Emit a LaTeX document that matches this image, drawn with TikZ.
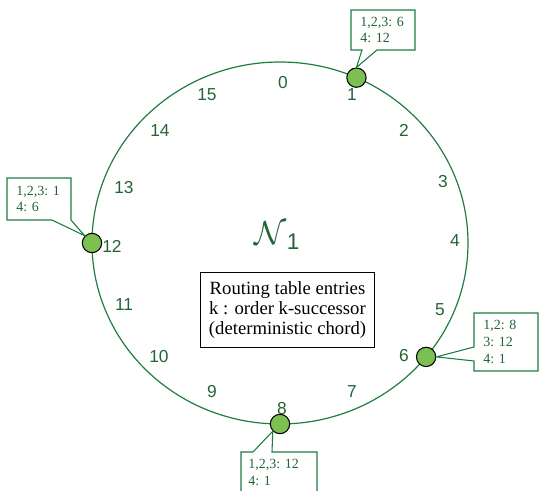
\documentclass[tikz,border=0pt]{standalone}
\usepackage{fontspec}
\setmainfont{Liberation Serif}
\setsansfont{Liberation Sans}
\usetikzlibrary{positioning}
\definecolor{ringgreen}{RGB}{30,125,65}
\definecolor{textgreen}{RGB}{35,100,55}
\definecolor{dotgreen}{RGB}{125,192,82}

\begin{document}
\begin{tikzpicture}[x=0.75pt, y=0.75pt,
    ring/.style={draw=ringgreen, line width=0.9pt},
    peer/.style={circle, draw=black, fill=dotgreen, line width=0.8pt,
      minimum size=14.5pt, inner sep=0pt},
    idlabel/.style={text=textgreen, font=\sffamily\fontsize{13}{15}\selectfont},
    bubble/.style={draw=ringgreen, fill=white, line width=0.8pt},
    bubbletext/.style={text=textgreen, font=\fontsize{10.5}{12.5}\selectfont,
      align=left, anchor=west, inner sep=0pt}]

    % page frame (pixel grid, y downwards)
    \useasboundingbox (0,0) rectangle (540,-491);
    \clip (0,0) rectangle (540,-491);

    % identifier ring
    \coordinate (c) at (280,-243);
    \draw[ring] (c) ellipse [x radius=141pt, y radius=135.75pt];

    % identifiers 0..15
    \foreach \k/\x/\y in {0/283/83, 1/352/95, 2/404/130, 3/443/182,
        4/455/241, 5/440/310, 6/404/356, 7/352/392, 8/282/409, 9/212/392,
        10/159/357, 11/124/305, 12/112/246, 13/124/188, 14/160/131, 15/207/95}
        \node[idlabel] (id\k) at (\x,-\y) {\k};

    % overlay network label
    \node[text=textgreen] (net) at (277,-236)
        {\fontsize{28}{30}\selectfont$\mathcal{N}$\raisebox{-4pt}{\sffamily\fontsize{17}{20}\selectfont 1}};

    % routing table legend
    \node[draw, line width=0.8pt, align=center, font=\fontsize{14}{15}\selectfont,
        minimum width=131pt, minimum height=56pt, inner sep=2pt] (rt) at (287.5,-310)
        {Routing table entries\\ k : order k-successor\\ (deterministic chord)};

    % peers on the ring
    \path (c) ++(66:188 and 181) node[peer] (p1) {};
    \path (c) ++(180:188 and 181) node[peer] (p12) {};
    \path (c) ++(-39:188 and 181) node[peer] (p6) {};
    \path (c) ++(-90:188 and 181) node[peer] (p8) {};

    % routing table of peer 1
    \draw[bubble] (351,-10) -- (415,-10) -- (415,-50) -- (377,-50)
        -- (p1.north) -- (362,-50) -- (351,-50) -- cycle;
    \node[bubbletext] (t1) at (360,-30) {1,2,3: 6\\4: 12};

    % routing table of peer 12
    \draw[bubble] (7,-178) -- (71,-178) -- (71,-220)
        -- (p12.north west) -- (52,-220) -- (7,-220) -- cycle;
    \node[bubbletext] (t12) at (16,-199) {1,2,3: 1\\4: 6};

    % routing table of peer 6
    \draw[bubble] (474,-313) -- (538,-313) -- (538,-371) -- (474,-371)
        -- (474,-361) -- (p6.east) -- (474,-347) -- cycle;
    \node[bubbletext] (t6) at (483,-342) {1,2: 8\\3: 12\\4: 1};

    % routing table of peer 8
    \draw[bubble] (241,-452) -- (253,-452) -- (p8.south west) -- (272,-452)
        -- (317,-452) -- (317,-500) -- (241,-500) -- cycle;
    \node[bubbletext, anchor=north west] (t8) at (248,-459) {1,2,3: 12\\4: 1};

\end{tikzpicture}
\end{document}
